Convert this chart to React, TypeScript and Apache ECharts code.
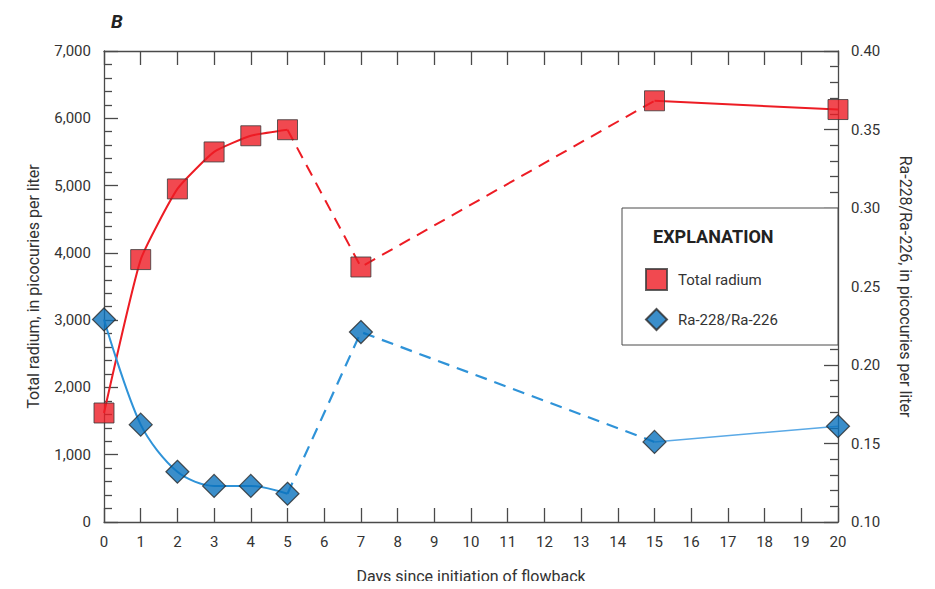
import React, { useEffect, useRef } from "react";
import * as echarts from "echarts";

const days = [0, 1, 2, 3, 4, 5, 7, 15, 20];
const totalRadium = [1620, 3900, 4950, 5500, 5740, 5830, 3790, 6260, 6130];
const raRatio = [0.229, 0.162, 0.132, 0.123, 0.123, 0.118, 0.221, 0.151, 0.161];
const seriesNames = ["Total radium", "Ra-228/Ra-226"];
const legendTitle = "EXPLANATION";
const panelLabel = "B";
const xName = "Days since initiation of flowback";
const yLeftName = "Total radium, in picocuries per liter";
const yRightName = "Ra-228/Ra-226, in picocuries per liter";

const FONT = "Roboto, 'Liberation Sans', sans-serif";
const RED = "#ED1C24";
const BLUE_FILL = "#0A72BD";
const BLUE_LINE = "#2F93D8";
const AXIS = "#4a4a4a";
const TEXT = "#333333";

const seg = (vals: number[], from: number, to: number) =>
  days.slice(from, to + 1).map((d, k) => [d, vals[from + k]]);

const axisLine = { show: true, onZero: false, lineStyle: { color: AXIS, width: 1.3 } };
const majorTick = { show: true, inside: true, length: 14, lineStyle: { color: AXIS, width: 1.3 } };
const minorTick = { show: true, splitNumber: 5, length: 8, lineStyle: { color: AXIS, width: 1.3 } };
const labelStyle = { fontFamily: FONT, fontSize: 15, color: TEXT };
const nameStyle = { fontFamily: FONT, fontSize: 16, color: TEXT };

export default function App() {
  const ref = useRef<HTMLDivElement>(null);
  useEffect(() => {
    if (!ref.current) return;
    const chart = echarts.init(ref.current, null, { renderer: "svg" });
    const lineSeries = (
      name: string,
      vals: number[],
      from: number,
      to: number,
      color: string,
      dashed: boolean,
      yAxisIndex: number,
      width: number,
      smooth: number | boolean
    ) => ({
      name,
      type: "line",
      yAxisIndex,
      data: seg(vals, from, to),
      showSymbol: false,
      symbol: "none",
      smooth,
      lineStyle: { color, width, type: dashed ? [12, 8] : "solid" },
      z: 2,
      silent: true,
    });
    chart.setOption({
      animation: false,
      textStyle: { fontFamily: FONT },
      title: {
        text: panelLabel,
        left: 106,
        top: 7,
        textStyle: { fontFamily: FONT, fontSize: 19, fontWeight: "bold", fontStyle: "italic", color: "#222" },
      },
      grid: { left: 104, right: 97, top: 51, bottom: 63 },
      legend: {
        data: [
          { name: seriesNames[0], icon: "rect" },
          { name: seriesNames[1], icon: "diamond" },
        ],
        orient: "vertical",
        left: 640,
        top: 263,
        itemWidth: 21,
        itemHeight: 21,
        itemGap: 17,
        selectedMode: false,
        textStyle: { fontFamily: FONT, fontSize: 15, color: TEXT, padding: [0, 0, 0, 6] },
      },
      graphic: [
        {
          type: "rect",
          shape: { x: 622, y: 208, width: 216, height: 137 },
          style: { fill: "#fff", stroke: AXIS, lineWidth: 1 },
          z: 1,
        },
        {
          type: "text",
          x: 653,
          y: 236,
          style: {
            text: legendTitle,
            fontFamily: FONT,
            fontSize: 18,
            fontWeight: "bold",
            fill: "#222",
            verticalAlign: "middle",
          },
          z: 3,
        },
      ],
      xAxis: [
        {
          type: "value",
          min: 0,
          max: 20,
          interval: 1,
          name: xName,
          nameLocation: "middle",
          nameGap: 46,
          nameTextStyle: nameStyle,
          axisLine,
          axisTick: majorTick,
          axisLabel: { ...labelStyle, margin: 12 },
          splitLine: { show: false },
        },
        {
          type: "value",
          position: "top",
          min: 0,
          max: 20,
          interval: 1,
          axisLine,
          axisTick: majorTick,
          axisLabel: { show: false },
          splitLine: { show: false },
        },
      ],
      yAxis: [
        {
          type: "value",
          position: "left",
          min: 0,
          max: 7000,
          interval: 1000,
          name: yLeftName,
          nameLocation: "middle",
          nameGap: 63,
          nameTextStyle: nameStyle,
          axisLine,
          axisTick: majorTick,
          minorTick,
          axisLabel: {
            ...labelStyle,
            margin: 13,
            formatter: (v: number) => v.toLocaleString("en-US"),
          },
          splitLine: { show: false },
          minorSplitLine: { show: false },
        },
        {
          type: "value",
          min: 0.1,
          max: 0.4,
          interval: 0.05,
          position: "right",
          name: yRightName,
          nameLocation: "middle",
          nameRotate: -90,
          nameGap: 59,
          nameTextStyle: nameStyle,
          axisLine,
          axisTick: majorTick,
          minorTick,
          axisLabel: {
            ...labelStyle,
            margin: 13,
            formatter: (v: number) => v.toFixed(2),
          },
          splitLine: { show: false },
          minorSplitLine: { show: false },
        },
      ],
      series: [
        lineSeries("r1", totalRadium, 0, 5, RED, false, 0, 2, 0.15),
        lineSeries("r2", totalRadium, 5, 7, RED, true, 0, 2, false),
        lineSeries("r3", totalRadium, 7, 8, RED, false, 0, 2, false),
        lineSeries("b1", raRatio, 0, 5, BLUE_LINE, false, 1, 2, 0.3),
        lineSeries("b2", raRatio, 5, 7, BLUE_LINE, true, 1, 2.2, false),
        lineSeries("b3", raRatio, 7, 8, "#5AA9E6", false, 1, 1.6, false),
        {
          name: seriesNames[0],
          type: "scatter",
          yAxisIndex: 0,
          symbol: "rect",
          symbolSize: 20,
          data: days.map((d, i) => [d, totalRadium[i]]),
          itemStyle: { color: RED, borderColor: "#3a3a3a", borderWidth: 1 },
          z: 5,
        },
        {
          name: seriesNames[1],
          type: "scatter",
          yAxisIndex: 1,
          symbol: "diamond",
          symbolSize: 23,
          data: days.map((d, i) => [d, raRatio[i]]),
          itemStyle: { color: BLUE_FILL, borderColor: "#2a2a2a", borderWidth: 1.2 },
          z: 5,
        },
      ],
    });
    return () => chart.dispose();
  }, []);
  return <div ref={ref} style={{ width: 935, height: 589, margin: -8 }} />;
}
